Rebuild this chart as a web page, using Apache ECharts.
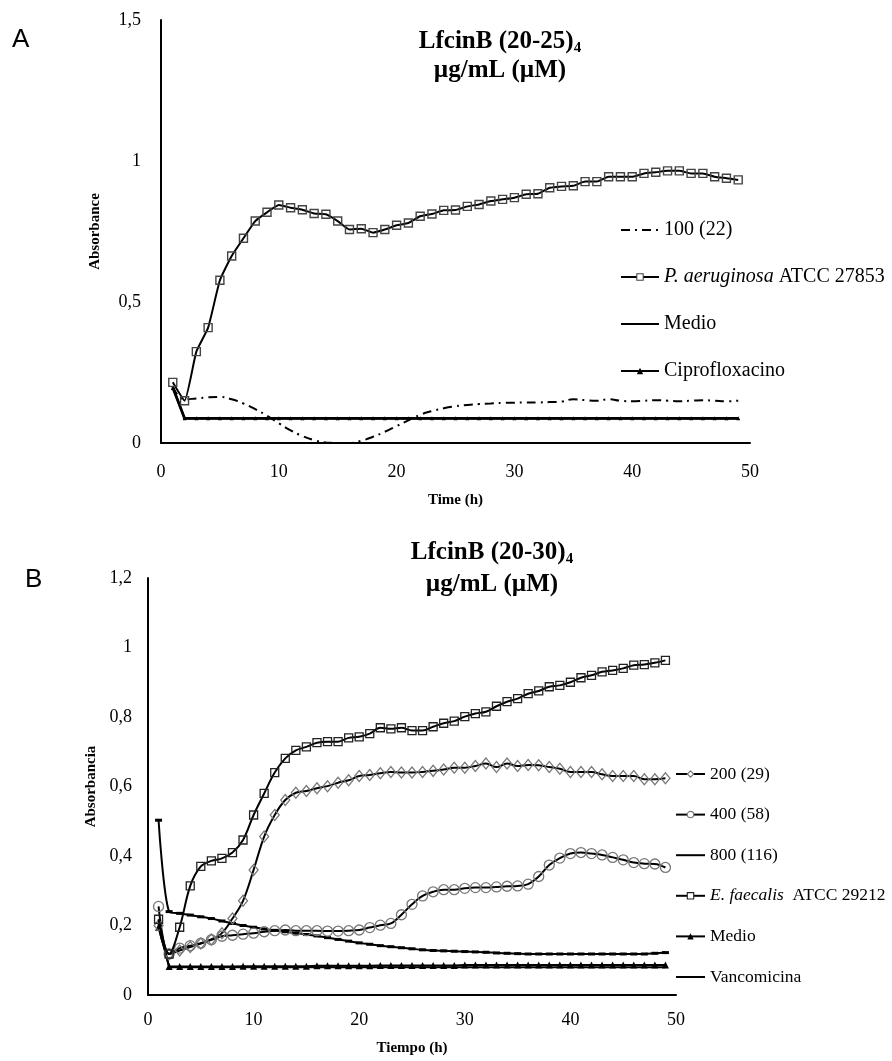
<!DOCTYPE html>
<html><head><meta charset="utf-8">
<script src="https://cdn.jsdelivr.net/npm/echarts@6/dist/echarts.min.js"></script>
<style>
html,body{margin:0;padding:0;background:#fff;width:892px;height:1061px;overflow:hidden}
#a{position:absolute;left:0;top:0;width:892px;height:530px}
#b{position:absolute;left:0;top:530px;width:892px;height:531px}
</style>
</head><body><div id="a"></div><div id="b"></div>
<script>
// ---------- Panel A data ----------
const hours = [1,2,3,4,5,6,7,8,9,10,11,12,13,14,15,16,17,18,19,20,21,22,23,24,25,26,27,28,29,30,31,32,33,34,35,36,37,38,39,40,41,42,43,44,45,46,47,48,49];
const a_dose100 = [0.20,0.155,0.158,0.162,0.163,0.155,0.140,0.120,0.097,0.070,0.045,0.025,0.010,0.002,0.000,0.000,0.008,0.022,0.040,0.060,0.080,0.100,0.113,0.123,0.130,0.135,0.138,0.140,0.142,0.143,0.144,0.144,0.145,0.147,0.155,0.152,0.150,0.155,0.150,0.148,0.150,0.152,0.150,0.148,0.150,0.152,0.150,0.148,0.150];
const a_paeruginosa = [0.215,0.150,0.324,0.409,0.577,0.663,0.726,0.787,0.818,0.844,0.834,0.827,0.814,0.811,0.787,0.757,0.760,0.746,0.757,0.772,0.780,0.804,0.812,0.825,0.826,0.839,0.846,0.858,0.864,0.870,0.882,0.884,0.905,0.910,0.912,0.927,0.927,0.944,0.944,0.944,0.956,0.960,0.965,0.965,0.956,0.956,0.944,0.939,0.933];
const a_medio = [0.200,0.087,0.087,0.087,0.087,0.087,0.087,0.087,0.087,0.087,0.087,0.087,0.087,0.087,0.087,0.087,0.087,0.087,0.087,0.087,0.087,0.087,0.087,0.087,0.087,0.087,0.087,0.087,0.087,0.087,0.087,0.087,0.087,0.087,0.087,0.087,0.087,0.087,0.087,0.087,0.087,0.087,0.087,0.087,0.087,0.087,0.087,0.087,0.087];
const a_cipro = [0.195,0.088,0.088,0.088,0.088,0.088,0.088,0.088,0.088,0.088,0.088,0.088,0.088,0.088,0.088,0.088,0.088,0.088,0.088,0.088,0.088,0.088,0.088,0.088,0.088,0.088,0.088,0.088,0.088,0.088,0.088,0.088,0.088,0.088,0.088,0.088,0.088,0.088,0.088,0.088,0.088,0.088,0.088,0.088,0.088,0.088,0.088,0.088,0.088];
const a_names = ['100 (22)','P. aeruginosa ATCC 27853','Medio','Ciprofloxacino'];

// ---------- Panel B data ----------
const b_d200 = [0.200,0.118,0.128,0.138,0.148,0.160,0.178,0.220,0.271,0.360,0.456,0.518,0.561,0.582,0.587,0.595,0.601,0.611,0.618,0.630,0.633,0.638,0.642,0.640,0.640,0.642,0.645,0.649,0.654,0.654,0.659,0.666,0.656,0.666,0.659,0.662,0.661,0.656,0.651,0.642,0.642,0.642,0.635,0.630,0.630,0.630,0.621,0.621,0.624];
const b_d400 = [0.255,0.118,0.135,0.142,0.149,0.159,0.169,0.172,0.175,0.178,0.182,0.185,0.187,0.185,0.185,0.185,0.184,0.184,0.185,0.187,0.194,0.201,0.206,0.231,0.261,0.285,0.297,0.303,0.303,0.307,0.309,0.309,0.311,0.313,0.314,0.319,0.341,0.374,0.394,0.407,0.410,0.407,0.403,0.396,0.389,0.381,0.378,0.377,0.367];
const b_d800 = [0.503,0.240,0.235,0.230,0.225,0.220,0.213,0.206,0.200,0.195,0.190,0.186,0.182,0.178,0.174,0.170,0.165,0.160,0.155,0.150,0.146,0.142,0.139,0.136,0.133,0.130,0.128,0.127,0.126,0.125,0.124,0.123,0.121,0.120,0.119,0.118,0.118,0.118,0.118,0.118,0.118,0.118,0.118,0.118,0.118,0.118,0.118,0.120,0.122];
const b_efaecalis = [0.218,0.118,0.195,0.314,0.370,0.386,0.393,0.410,0.446,0.518,0.580,0.640,0.681,0.704,0.714,0.726,0.729,0.729,0.740,0.743,0.752,0.769,0.766,0.769,0.761,0.761,0.772,0.782,0.788,0.801,0.810,0.815,0.831,0.844,0.853,0.867,0.875,0.887,0.891,0.900,0.913,0.920,0.930,0.934,0.940,0.949,0.951,0.956,0.963];
const b_medio = [0.195,0.082,0.082,0.082,0.082,0.082,0.082,0.082,0.083,0.083,0.083,0.083,0.083,0.083,0.083,0.084,0.084,0.084,0.084,0.084,0.084,0.085,0.085,0.085,0.085,0.085,0.085,0.085,0.085,0.086,0.086,0.086,0.086,0.086,0.086,0.086,0.086,0.086,0.086,0.086,0.086,0.086,0.086,0.086,0.086,0.086,0.086,0.086,0.086];
const b_vanco = [0.205,0.080,0.080,0.080,0.080,0.080,0.080,0.080,0.080,0.080,0.080,0.080,0.080,0.080,0.080,0.080,0.080,0.080,0.080,0.080,0.080,0.080,0.080,0.080,0.080,0.080,0.080,0.080,0.080,0.080,0.080,0.080,0.080,0.080,0.080,0.080,0.080,0.080,0.080,0.080,0.080,0.080,0.080,0.080,0.080,0.080,0.080,0.080,0.080];
const b_names = ['200 (29)','400 (58)','800 (116)','E. faecalis  ATCC 29212','Medio','Vancomicina'];

const SERIF = 'Liberation Serif';
const pair = arr => arr.map((v,i)=>[hours[i], v]);
const comma = v => String(Math.round(v*10)/10).replace('.', ',');
const hollow = c => ({color:'#fff', borderColor:c, borderWidth:1.1});

function axisBase(){
  return {
    axisLine:{show:true, onZero:false, lineStyle:{color:'#000', width:2}},
    axisTick:{show:false},
    splitLine:{show:false},
    nameLocation:'middle',
    nameTextStyle:{color:'#000', fontFamily:SERIF, fontWeight:'bold', fontSize:15}
  };
}

// ---------- Chart A ----------
const chA = echarts.init(document.getElementById('a'));
chA.setOption({
  animation:false,
  graphic:[
    {type:'text', x:12, y:40, style:{text:'A', font:'26px "Liberation Sans"', fill:'#000', verticalAlign:'middle'}},
    {type:'text', x:500, y:42, style:{text:'LfcinB (20-25){sub|4}', fill:'#000', font:'bold 25px "Liberation Serif"', align:'center', verticalAlign:'middle',
      rich:{sub:{font:'bold 15px "Liberation Serif"', padding:[13,0,0,0]}}}},
    {type:'text', x:500, y:71, style:{text:'µg/mL (µM)', fill:'#000', font:'bold 25px "Liberation Serif"', align:'center', verticalAlign:'middle'}}
  ],
  grid:{left:161, top:20, width:589, height:423, containLabel:false},
  legend:{
    orient:'vertical', left:620, top:220, padding:0, itemWidth:38, itemHeight:8, itemGap:27,
    data:[
      {name:a_names[0], itemStyle:{opacity:0}},
      {name:a_names[1], itemStyle:hollow('#444')},
      {name:a_names[2], itemStyle:{opacity:0}},
      {name:a_names[3]}
    ],
    formatter: n => n.startsWith('P. aeruginosa') ? '{i|P. aeruginosa} ATCC 27853' : n,
    textStyle:{color:'#000', fontFamily:SERIF, fontSize:20, lineHeight:16,
      rich:{i:{fontStyle:'italic', fontFamily:SERIF, fontSize:20, color:'#000'}}}
  },
  xAxis:Object.assign(axisBase(), {type:'value', min:0, max:50, interval:10, name:'Time (h)', nameGap:50,
    axisLabel:{color:'#000', fontFamily:SERIF, fontSize:18, margin:20}}),
  yAxis:Object.assign(axisBase(), {type:'value', min:0, max:1.5, interval:0.5, name:'Absorbance', nameGap:58,
    axisLabel:{color:'#000', fontFamily:SERIF, fontSize:18, margin:20, formatter:comma}}),
  series:[
    {name:a_names[0], type:'line', data:pair(a_dose100), smooth:0.5, symbol:'none',
     lineStyle:{color:'#000', width:2, type:[9,5,2,5]}, itemStyle:{color:'#000'}, z:3},
    {name:a_names[2], type:'line', data:pair(a_medio), symbol:'none',
     lineStyle:{color:'#000', width:2.5}, itemStyle:{color:'#000'}, z:2},
    {name:a_names[3], type:'line', data:pair(a_cipro), symbol:'triangle', symbolSize:4, showAllSymbol:true,
     lineStyle:{color:'#000', width:2.5}, itemStyle:{color:'#000'}, z:2},
    {name:a_names[1], type:'line', data:pair(a_paeruginosa), smooth:0.15, symbol:'rect', symbolSize:8, showAllSymbol:true,
     lineStyle:{color:'#000', width:2}, itemStyle:{color:'rgba(255,255,255,0)', borderColor:'#444', borderWidth:1.4}, z:4}
  ]
});

// ---------- Chart B ----------
const chB = echarts.init(document.getElementById('b'));
chB.setOption({
  animation:false,
  graphic:[
    {type:'text', x:25, y:50, style:{text:'B', font:'26px "Liberation Sans"', fill:'#000', verticalAlign:'middle'}},
    {type:'text', x:492, y:23, style:{text:'LfcinB (20-30){sub|4}', fill:'#000', font:'bold 25px "Liberation Serif"', align:'center', verticalAlign:'middle',
      rich:{sub:{font:'bold 15px "Liberation Serif"', padding:[13,0,0,0]}}}},
    {type:'text', x:492, y:55, style:{text:'µg/mL (µM)', fill:'#000', font:'bold 25px "Liberation Serif"', align:'center', verticalAlign:'middle'}}
  ],
  grid:{left:148, top:48, width:528, height:418, containLabel:false},
  legend:{
    orient:'vertical', left:675, top:235, padding:0, itemWidth:29, itemHeight:8, itemGap:22.6,
    data:[
      {name:b_names[0], itemStyle:hollow('#777')},
      {name:b_names[1], itemStyle:hollow('#777')},
      {name:b_names[2], itemStyle:{opacity:0}},
      {name:b_names[3], itemStyle:hollow('#222')},
      {name:b_names[4]},
      {name:b_names[5], itemStyle:{opacity:0}}
    ],
    formatter: n => n.startsWith('E. faecalis') ? '{i|E. faecalis}  ATCC 29212' : n,
    textStyle:{color:'#000', fontFamily:SERIF, fontSize:17.5, lineHeight:14,
      rich:{i:{fontStyle:'italic', fontFamily:SERIF, fontSize:17.5, color:'#000'}}}
  },
  xAxis:Object.assign(axisBase(), {type:'value', min:0, max:50, interval:10, name:'Tiempo (h)', nameGap:46,
    axisLabel:{color:'#000', fontFamily:SERIF, fontSize:18, margin:16}}),
  yAxis:Object.assign(axisBase(), {type:'value', min:0, max:1.2, interval:0.2, name:'Absorbancia', nameGap:48,
    axisLabel:{color:'#000', fontFamily:SERIF, fontSize:18, margin:16, formatter:comma}}),
  series:[
    {name:b_names[5], type:'line', data:pair(b_vanco), symbol:'none',
     lineStyle:{color:'#000', width:2}, itemStyle:{color:'#000'}, z:2},
    {name:b_names[4], type:'line', data:pair(b_medio), symbol:'triangle', symbolSize:7, showAllSymbol:true,
     lineStyle:{color:'#000', width:2}, itemStyle:{color:'#000'}, z:2},
    {name:b_names[2], type:'line', data:pair(b_d800), smooth:0.3, symbol:'rect', symbolSize:[7,3], showAllSymbol:true,
     lineStyle:{color:'#000', width:2}, itemStyle:{color:'#000'}, z:3},
    {name:b_names[1], type:'line', data:pair(b_d400), smooth:0.35, symbol:'circle', symbolSize:10, showAllSymbol:true,
     lineStyle:{color:'#000', width:2}, itemStyle:{color:'rgba(255,255,255,0)', borderColor:'#777', borderWidth:1.3}, z:3},
    {name:b_names[0], type:'line', data:pair(b_d200), smooth:0.35, symbol:'diamond', symbolSize:[9,11], showAllSymbol:true,
     lineStyle:{color:'#000', width:2}, itemStyle:{color:'rgba(255,255,255,0)', borderColor:'#777', borderWidth:1.3}, z:3},
    {name:b_names[3], type:'line', data:pair(b_efaecalis), smooth:0.35, symbol:'rect', symbolSize:8, showAllSymbol:true,
     lineStyle:{color:'#000', width:2}, itemStyle:{color:'rgba(255,255,255,0)', borderColor:'#222', borderWidth:1.3}, z:4}
  ]
});
</script>
</body></html>
